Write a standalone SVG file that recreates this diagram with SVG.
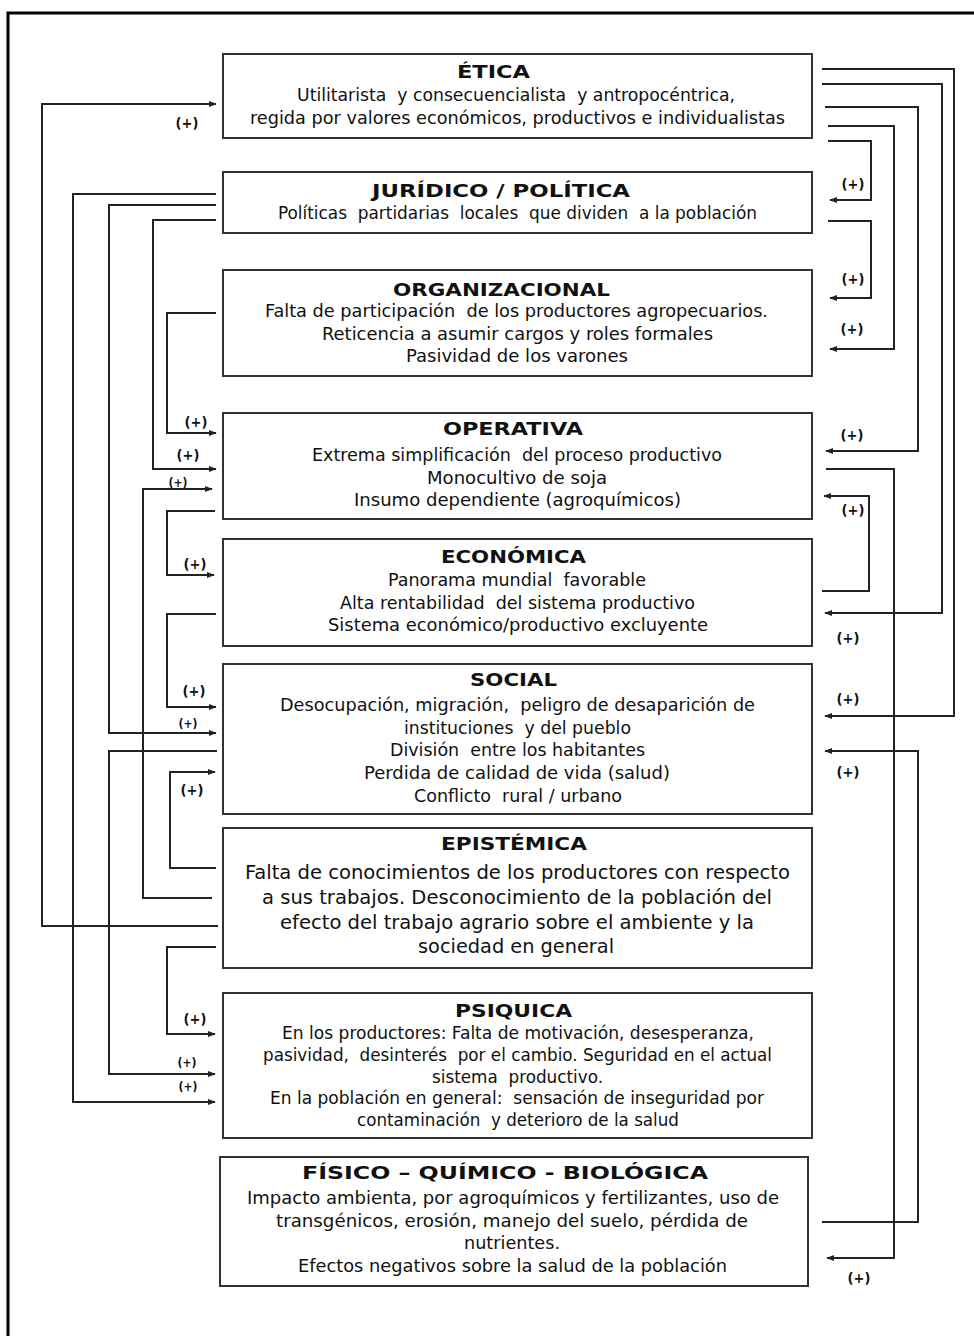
<svg xmlns="http://www.w3.org/2000/svg" width="974" height="1336" viewBox="0 0 974 1336">
<style>
.box{fill:#fff;stroke:#333;stroke-width:2}
.t{font-family:"DejaVu Sans","Liberation Sans",sans-serif;font-weight:bold;font-size:18px;fill:#111;text-anchor:middle}
.b{font-family:"DejaVu Sans Condensed","DejaVu Sans",sans-serif;font-size:17.5px;fill:#111;text-anchor:middle}
.e{font-size:19.5px}
.p{font-family:"DejaVu Sans Condensed","DejaVu Sans",sans-serif;font-weight:bold;font-size:14.5px;fill:#111;text-anchor:middle}
.ps{font-size:12px}
.c{fill:none;stroke:#222;stroke-width:2}
text{white-space:pre}
</style>
<defs>
<marker id="ah" viewBox="0 0 10 10" refX="9" refY="5" markerWidth="8" markerHeight="8" markerUnits="userSpaceOnUse" orient="auto">
<path d="M0,1 L10,5 L0,9 Z" fill="#222"/>
</marker>
</defs>
<rect width="974" height="1336" fill="#fff"/>
<path d="M8,1336 V13 H974" fill="none" stroke="#000" stroke-width="3"/>

<g id="connectors">
<path class="c" d="M218,926 H42 V104 H216" marker-end="url(#ah)"/>
<path class="c" d="M216,194 H73 V1102 H215" marker-end="url(#ah)"/>
<path class="c" d="M216,205 H109 V733 H216" marker-end="url(#ah)"/>
<path class="c" d="M217,751 H109 V1074 H215" marker-end="url(#ah)"/>
<path class="c" d="M216,220 H153 V469 H216" marker-end="url(#ah)"/>
<path class="c" d="M212,898 H143 V489 H212" marker-end="url(#ah)"/>
<path class="c" d="M216,313 H167 V433 H216" marker-end="url(#ah)"/>
<path class="c" d="M215,511 H167 V575 H214" marker-end="url(#ah)"/>
<path class="c" d="M216,614 H167 V707 H216" marker-end="url(#ah)"/>
<path class="c" d="M216,868 H170 V772 H215" marker-end="url(#ah)"/>
<path class="c" d="M216,947 H167 V1034 H215" marker-end="url(#ah)"/>
<path class="c" d="M822,69 H954 V716 H825" marker-end="url(#ah)"/>
<path class="c" d="M822,84 H942 V613 H825" marker-end="url(#ah)"/>
<path class="c" d="M825,107 H918 V451 H826" marker-end="url(#ah)"/>
<path class="c" d="M828,126 H894 V349 H830" marker-end="url(#ah)"/>
<path class="c" d="M828,141 H871 V200 H830" marker-end="url(#ah)"/>
<path class="c" d="M828,221 H871 V298 H830" marker-end="url(#ah)"/>
<path class="c" d="M826,469 H894 V1258 H827" marker-end="url(#ah)"/>
<path class="c" d="M822,591 H869 V496 H824" marker-end="url(#ah)"/>
<path class="c" d="M822,1222 H918 V751 H825" marker-end="url(#ah)"/>
<text class="p" x="187" y="128">(+)</text>
<text class="p" x="196" y="427">(+)</text>
<text class="p" x="188" y="460">(+)</text>
<text class="p ps" x="178" y="487">(+)</text>
<text class="p" x="195" y="569">(+)</text>
<text class="p" x="194" y="696">(+)</text>
<text class="p ps" x="188" y="728">(+)</text>
<text class="p" x="192" y="795">(+)</text>
<text class="p" x="195" y="1024">(+)</text>
<text class="p ps" x="187" y="1067">(+)</text>
<text class="p ps" x="188" y="1091">(+)</text>
<text class="p" x="853" y="189">(+)</text>
<text class="p" x="853" y="284">(+)</text>
<text class="p" x="852" y="334">(+)</text>
<text class="p" x="852" y="440">(+)</text>
<text class="p" x="853" y="515">(+)</text>
<text class="p" x="848" y="643">(+)</text>
<text class="p" x="848" y="704">(+)</text>
<text class="p" x="848" y="777">(+)</text>
<text class="p" x="859" y="1283">(+)</text>
</g>

<g id="etica">
<rect class="box" x="223" y="54" width="589" height="84"/>
<text class="t" x="493.5" y="78" textLength="73" lengthAdjust="spacingAndGlyphs">ÉTICA</text>
<text class="b" x="516" y="101" textLength="438" lengthAdjust="spacingAndGlyphs">Utilitarista  y consecuencialista  y antropocéntrica,</text>
<text class="b" x="517.5" y="124" textLength="535" lengthAdjust="spacingAndGlyphs">regida por valores económicos, productivos e individualistas</text>
</g>

<g id="juridico">
<rect class="box" x="223" y="172" width="589" height="61"/>
<text class="t" x="501" y="197" textLength="258" lengthAdjust="spacingAndGlyphs">JURÍDICO / POLÍTICA</text>
<text class="b" x="517.5" y="219" textLength="479" lengthAdjust="spacingAndGlyphs">Políticas  partidarias  locales  que dividen  a la población</text>
</g>

<g id="organizacional">
<rect class="box" x="223" y="270" width="589" height="106"/>
<text class="t" x="501.5" y="296" textLength="217" lengthAdjust="spacingAndGlyphs">ORGANIZACIONAL</text>
<text class="b" x="516.5" y="317" textLength="503" lengthAdjust="spacingAndGlyphs">Falta de participación  de los productores agropecuarios.</text>
<text class="b" x="517.5" y="340" textLength="391" lengthAdjust="spacingAndGlyphs">Reticencia a asumir cargos y roles formales</text>
<text class="b" x="517" y="362" textLength="222" lengthAdjust="spacingAndGlyphs">Pasividad de los varones</text>
</g>

<g id="operativa">
<rect class="box" x="223" y="413" width="589" height="106"/>
<text class="t" x="513" y="435" textLength="140" lengthAdjust="spacingAndGlyphs">OPERATIVA</text>
<text class="b" x="517" y="461" textLength="410" lengthAdjust="spacingAndGlyphs">Extrema simplificación  del proceso productivo</text>
<text class="b" x="517" y="484" textLength="180" lengthAdjust="spacingAndGlyphs">Monocultivo de soja</text>
<text class="b" x="517.5" y="506" textLength="327" lengthAdjust="spacingAndGlyphs">Insumo dependiente (agroquímicos)</text>
</g>

<g id="economica">
<rect class="box" x="223" y="539" width="589" height="107"/>
<text class="t" x="513.5" y="563" textLength="145" lengthAdjust="spacingAndGlyphs">ECONÓMICA</text>
<text class="b" x="517" y="586" textLength="258" lengthAdjust="spacingAndGlyphs">Panorama mundial  favorable</text>
<text class="b" x="517.5" y="609" textLength="355" lengthAdjust="spacingAndGlyphs">Alta rentabilidad  del sistema productivo</text>
<text class="b" x="518" y="631" textLength="380" lengthAdjust="spacingAndGlyphs">Sistema económico/productivo excluyente</text>
</g>

<g id="social">
<rect class="box" x="223" y="664" width="589" height="150"/>
<text class="t" x="513.5" y="686" textLength="87" lengthAdjust="spacingAndGlyphs">SOCIAL</text>
<text class="b" x="517.5" y="711" textLength="475" lengthAdjust="spacingAndGlyphs">Desocupación, migración,  peligro de desaparición de</text>
<text class="b" x="517.5" y="734" textLength="227" lengthAdjust="spacingAndGlyphs">instituciones  y del pueblo</text>
<text class="b" x="517.5" y="756" textLength="255" lengthAdjust="spacingAndGlyphs">División  entre los habitantes</text>
<text class="b" x="517" y="779" textLength="306" lengthAdjust="spacingAndGlyphs">Perdida de calidad de vida (salud)</text>
<text class="b" x="518" y="802" textLength="208" lengthAdjust="spacingAndGlyphs">Conflicto  rural / urbano</text>
</g>

<g id="epistemica">
<rect class="box" x="223" y="828" width="589" height="140"/>
<text class="t" x="514" y="850" textLength="146" lengthAdjust="spacingAndGlyphs">EPISTÉMICA</text>
<text class="b e" x="517.5" y="879" textLength="545" lengthAdjust="spacingAndGlyphs">Falta de conocimientos de los productores con respecto</text>
<text class="b e" x="517" y="904" textLength="510" lengthAdjust="spacingAndGlyphs">a sus trabajos. Desconocimiento de la población del</text>
<text class="b e" x="517" y="929" textLength="474" lengthAdjust="spacingAndGlyphs">efecto del trabajo agrario sobre el ambiente y la</text>
<text class="b e" x="516" y="953" textLength="196" lengthAdjust="spacingAndGlyphs">sociedad en general</text>
</g>

<g id="psiquica">
<rect class="box" x="223" y="993" width="589" height="145"/>
<text class="t" x="513.5" y="1017" textLength="117" lengthAdjust="spacingAndGlyphs">PSIQUICA</text>
<text class="b" x="518" y="1039" textLength="472" lengthAdjust="spacingAndGlyphs">En los productores: Falta de motivación, desesperanza,</text>
<text class="b" x="517.5" y="1061" textLength="509" lengthAdjust="spacingAndGlyphs">pasividad,  desinterés  por el cambio. Seguridad en el actual</text>
<text class="b" x="517.5" y="1083" textLength="171" lengthAdjust="spacingAndGlyphs">sistema  productivo.</text>
<text class="b" x="517" y="1104" textLength="494" lengthAdjust="spacingAndGlyphs">En la población en general:  sensación de inseguridad por</text>
<text class="b" x="518" y="1126" textLength="322" lengthAdjust="spacingAndGlyphs">contaminación  y deterioro de la salud</text>
</g>

<g id="fisico">
<rect class="box" x="220" y="1157" width="588" height="129"/>
<text class="t" x="505" y="1179" textLength="406" lengthAdjust="spacingAndGlyphs">FÍSICO – QUÍMICO - BIOLÓGICA</text>
<text class="b" x="513" y="1204" textLength="532" lengthAdjust="spacingAndGlyphs">Impacto ambienta, por agroquímicos y fertilizantes, uso de</text>
<text class="b" x="512" y="1227" textLength="472" lengthAdjust="spacingAndGlyphs">transgénicos, erosión, manejo del suelo, pérdida de</text>
<text class="b" x="512" y="1249" textLength="96" lengthAdjust="spacingAndGlyphs">nutrientes.</text>
<text class="b" x="512.5" y="1272" textLength="429" lengthAdjust="spacingAndGlyphs">Efectos negativos sobre la salud de la población</text>
</g>
</svg>
